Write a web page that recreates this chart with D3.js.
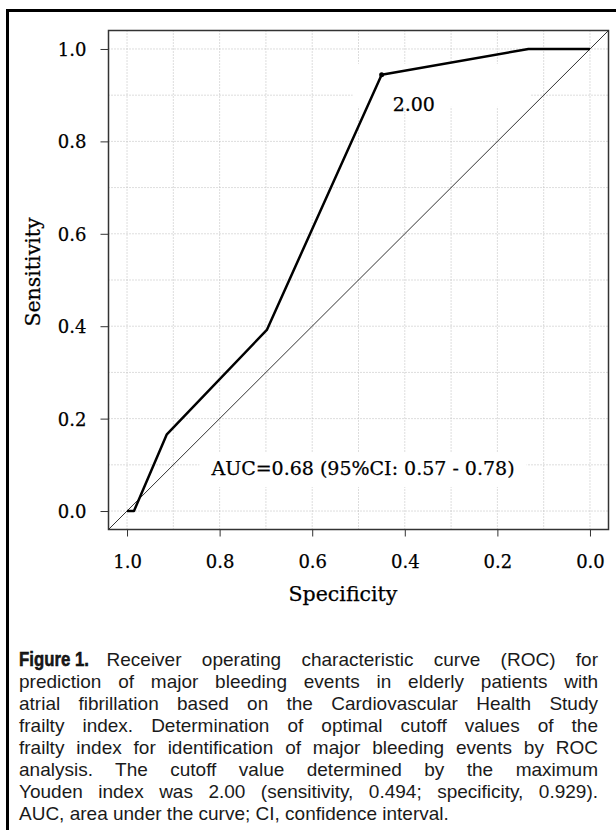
<!DOCTYPE html>
<html>
<head>
<meta charset="utf-8">
<title>ROC curve</title>
<script src="https://d3js.org/d3.v7.min.js"></script>
<style>
body { margin: 0; background: #fff; }
#figure { position: relative; width: 616px; height: 830px; overflow: hidden; }
#figure svg { position: absolute; left: 0; top: 0; }
.serif { font-family: "DejaVu Serif", serif; fill: #000; stroke: #000; stroke-width: 0.25px; }
.axis text { font-family: "DejaVu Serif", serif; font-size: 18px; fill: #000; stroke: #000; stroke-width: 0.25px; }
.axis path, .axis line { stroke: #333; }
#caption {
  position: absolute; left: 19px; top: 648px; width: 579px;
  font-family: "Liberation Sans", Arial, sans-serif; font-size: 19px;
  line-height: 22px; color: #1a1a1a;
}
#caption .line { text-align: justify; text-align-last: justify; }
#caption .line.last { text-align: left; text-align-last: left; }
#caption .fig {
  display: inline-block; font-weight: bold; font-size: 21px;
  -webkit-text-stroke: 0.5px #000;
  transform: scaleX(0.8); transform-origin: 0 50%;
  margin-right: 0px;
}
</style>
</head>
<body>
<div id="figure"></div>
<script>
// ROC points (specificity on x, reversed)
var specificity = [1.0, 0.985, 0.914, 0.698, 0.450, 0.133, 0.0];
var sensitivity = [0.0, 0.0, 0.166, 0.392, 0.944, 1.0, 1.0];

var tickValues = [0, 0.2, 0.4, 0.6, 0.8, 1.0];
var gridValues = [0, 0.1, 0.2, 0.3, 0.4, 0.5, 0.6, 0.7, 0.8, 0.9, 1.0];

var cutoff = {spec: 0.450, sens: 0.944, label: "2.00"};
var aucText = "AUC=0.68 (95%CI: 0.57 - 0.78)";

var captionLines = [
  "Receiver operating characteristic curve (ROC) for",
  "prediction of major bleeding events in elderly patients with",
  "atrial fibrillation based on the Cardiovascular Health Study",
  "frailty index. Determination of optimal cutoff values of the",
  "frailty index for identification of major bleeding events by ROC",
  "analysis. The cutoff value determined by the maximum",
  "Youden index was 2.00 (sensitivity, 0.494; specificity, 0.929).",
  "AUC, area under the curve; CI, confidence interval."
];

var W = 616, H = 830;
var box = {left: 108.5, top: 30.5, right: 608.5, bottom: 529.5};

var svg = d3.select("#figure").append("svg")
    .attr("width", W)
    .attr("height", H);

// outer frame of the figure panel
svg.append("rect")
    .attr("x", 7.5).attr("y", 10.5)
    .attr("width", 640).attr("height", 840)
    .attr("fill", "none")
    .attr("stroke", "#000")
    .attr("stroke-width", 3);

var x = d3.scaleLinear()
    .domain([1.04, -0.04])
    .range([box.left, box.right]);

var y = d3.scaleLinear()
    .domain([-0.04, 1.04])
    .range([box.bottom, box.top]);

svg.append("defs").append("clipPath").attr("id", "clip")
  .append("rect")
    .attr("x", box.left).attr("y", box.top)
    .attr("width", box.right - box.left)
    .attr("height", box.bottom - box.top);

// dotted grid
var grid = svg.append("g").attr("clip-path", "url(#clip)");
grid.selectAll(".gx").data(gridValues).enter().append("line")
    .attr("x1", function(d) { return x(d); })
    .attr("x2", function(d) { return x(d); })
    .attr("y1", box.top).attr("y2", box.bottom)
    .attr("stroke", "#bbb").attr("stroke-dasharray", "1,2");
grid.selectAll(".gy").data(gridValues).enter().append("line")
    .attr("y1", function(d) { return y(d); })
    .attr("y2", function(d) { return y(d); })
    .attr("x1", box.left).attr("x2", box.right)
    .attr("stroke", "#bbb").attr("stroke-dasharray", "1,2");

// reference diagonal
grid.append("line")
    .attr("x1", x(1.04)).attr("y1", y(-0.04))
    .attr("x2", x(-0.04)).attr("y2", y(1.04))
    .attr("stroke", "#333").attr("stroke-width", 1);

// labels sit on white patches that hide the grid
function boxedText(tx, ty, str, anchor, pad) {
  var t = svg.append("text")
      .attr("class", "serif")
      .attr("x", tx).attr("y", ty)
      .attr("text-anchor", anchor)
      .attr("font-size", 19)
      .text(str);
  var b = t.node().getBBox();
  svg.insert("rect", function() { return t.node(); })
      .attr("x", b.x - pad[0]).attr("y", b.y - pad[1])
      .attr("width", b.width + pad[0] + pad[2])
      .attr("height", b.height + pad[1] + pad[3])
      .attr("fill", "#fff");
  return t;
}

var rocData = specificity.map(function(s, i) { return [s, sensitivity[i]]; });
var line = d3.line()
    .x(function(d) { return x(d[0]); })
    .y(function(d) { return y(d[1]); });

boxedText(x(cutoff.spec) + 11, y(cutoff.sens) + 36, cutoff.label, "start", [40, 29, 95, -8]);
boxedText(363, 475, aucText, "middle", [11, 4, 12, 8]);

svg.append("path")
    .datum(rocData)
    .attr("d", line)
    .attr("fill", "none")
    .attr("stroke", "#000")
    .attr("stroke-width", 2.5)
    .attr("stroke-linejoin", "round");

svg.append("circle")
    .attr("cx", x(cutoff.spec)).attr("cy", y(cutoff.sens))
    .attr("r", 2.5).attr("fill", "#000");

// plot box
svg.append("rect")
    .attr("x", box.left).attr("y", box.top)
    .attr("width", box.right - box.left)
    .attr("height", box.bottom - box.top)
    .attr("fill", "none").attr("stroke", "#333").attr("stroke-width", 1.5);

// axes
var xAxis = svg.append("g")
    .attr("class", "axis")
    .attr("transform", "translate(0," + box.bottom + ")")
    .call(d3.axisBottom(x).tickValues(tickValues).tickFormat(d3.format(".1f"))
      .tickSize(7).tickPadding(19));
xAxis.select(".domain").remove();

var yAxis = svg.append("g")
    .attr("class", "axis")
    .attr("transform", "translate(" + box.left + ",0)")
    .call(d3.axisLeft(y).tickValues(tickValues).tickFormat(d3.format(".1f"))
      .tickSize(8).tickPadding(14));
yAxis.select(".domain").remove();
yAxis.selectAll("text").attr("dy", "0.36em");

svg.append("text")
    .attr("class", "serif")
    .attr("x", 343).attr("y", 601)
    .attr("text-anchor", "middle")
    .attr("font-size", 20.5)
    .text("Specificity");

svg.append("text")
    .attr("class", "serif")
    .attr("transform", "translate(40,272) rotate(-90)")
    .attr("text-anchor", "middle")
    .attr("font-size", 20.5)
    .text("Sensitivity");

// caption
var cap = d3.select("#figure").append("div").attr("id", "caption");
captionLines.forEach(function(txt, i) {
  var div = cap.append("div").attr("class", "line" + (i === captionLines.length - 1 ? " last" : ""));
  if (i === 0) div.append("span").attr("class", "fig").text("Figure 1.");
  div.append("span").text(txt);
});
</script>
</body>
</html>
